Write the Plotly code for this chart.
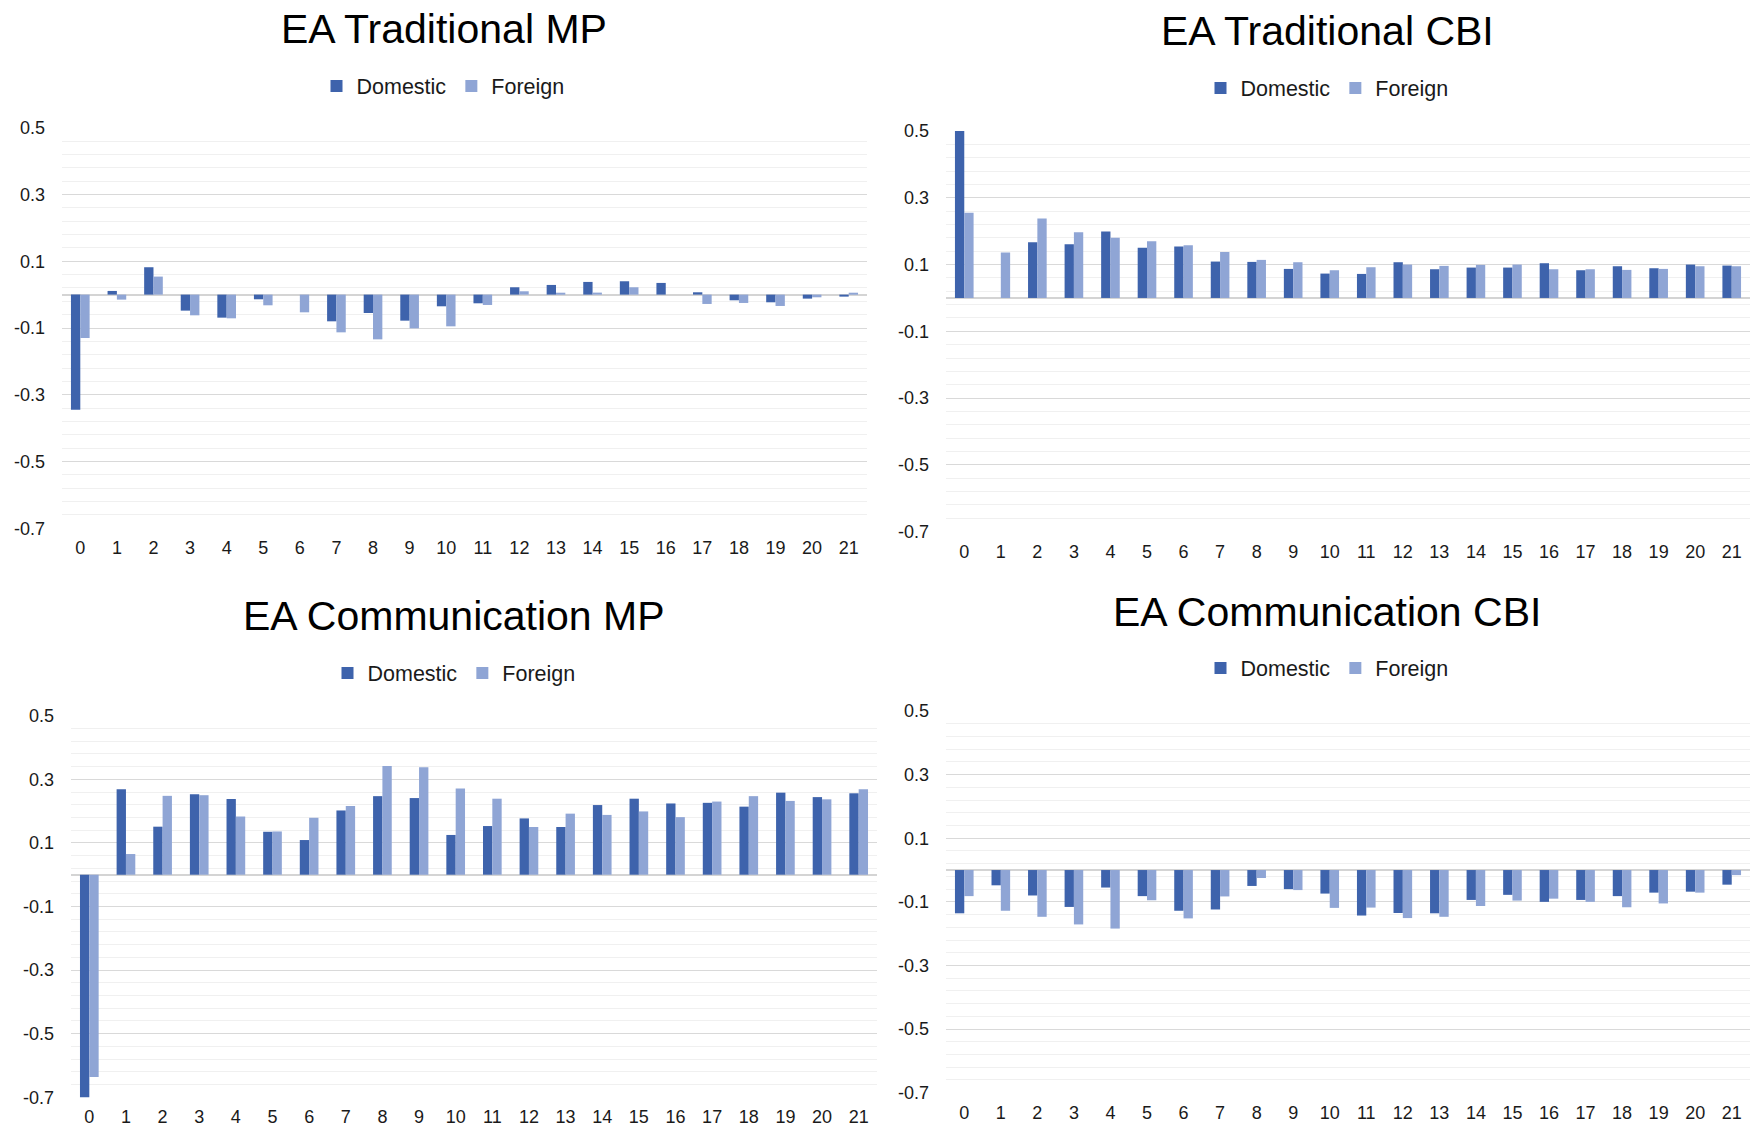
import plotly.graph_objects as go

W, H = 1751, 1128

horizons = list(range(22))
x_labels = [str(h) for h in horizons]
y_tickvals = [0.5, 0.3, 0.1, -0.1, -0.3, -0.5, -0.7]
y_ticktext = ["0.5", "0.3", "0.1", "-0.1", "-0.3", "-0.5", "-0.7"]

titles = ["EA Traditional MP", "EA Traditional CBI", "EA Communication MP", "EA Communication CBI"]
series_names = ["Domestic", "Foreign"]

trad_mp_domestic = [-0.345, 0.011, 0.082, -0.048, -0.069, -0.014, 0.0, -0.080, -0.055, -0.078, -0.035,
                    -0.026, 0.022, 0.029, 0.038, 0.040, 0.035, 0.007, -0.017, -0.023, -0.012, -0.006]
trad_mp_foreign = [-0.130, -0.015, 0.054, -0.062, -0.071, -0.032, -0.053, -0.113, -0.134, -0.101, -0.095,
                   -0.031, 0.010, 0.005, 0.006, 0.022, 0.0, -0.028, -0.025, -0.034, -0.008, 0.005]

trad_cbi_domestic = [0.503, 0.0, 0.167, 0.161, 0.199, 0.150, 0.154, 0.109, 0.108, 0.087, 0.073,
                     0.072, 0.107, 0.086, 0.091, 0.091, 0.104, 0.083, 0.095, 0.089, 0.100, 0.097]
trad_cbi_foreign = [0.255, 0.136, 0.238, 0.197, 0.180, 0.170, 0.158, 0.138, 0.114, 0.107, 0.083,
                    0.092, 0.100, 0.096, 0.099, 0.100, 0.086, 0.086, 0.084, 0.087, 0.095, 0.095]

comm_mp_domestic = [-0.703, 0.269, 0.151, 0.253, 0.238, 0.135, 0.109, 0.202, 0.247, 0.241, 0.125,
                    0.153, 0.177, 0.150, 0.219, 0.239, 0.224, 0.226, 0.214, 0.258, 0.244, 0.256]
comm_mp_foreign = [-0.636, 0.065, 0.248, 0.250, 0.183, 0.136, 0.179, 0.216, 0.342, 0.338, 0.271,
                   0.239, 0.150, 0.192, 0.188, 0.199, 0.181, 0.230, 0.247, 0.232, 0.237, 0.269]

comm_cbi_domestic = [-0.136, -0.048, -0.080, -0.116, -0.055, -0.082, -0.128, -0.124, -0.050, -0.060, -0.074,
                     -0.143, -0.135, -0.136, -0.094, -0.078, -0.100, -0.094, -0.082, -0.071, -0.068, -0.046]
comm_cbi_foreign = [-0.082, -0.128, -0.147, -0.171, -0.184, -0.095, -0.152, -0.083, -0.025, -0.063, -0.119,
                    -0.118, -0.151, -0.147, -0.113, -0.096, -0.090, -0.100, -0.117, -0.105, -0.071, -0.016]

panels = [
    (trad_mp_domestic, trad_mp_foreign),
    (trad_cbi_domestic, trad_cbi_foreign),
    (comm_mp_domestic, comm_mp_foreign),
    (comm_cbi_domestic, comm_cbi_foreign),
]

COL_DOM = "#3E63AC"
COL_FOR = "#8FA5D5"
FONT = "Arial, Liberation Sans, sans-serif"
TXT = "#1a1a1a"

# page-pixel geometry of each panel: (x_left, x_right, y_top(0.5), y_bottom(-0.7)), title (cx, cy), legend (cx, cy)
geo = [
    (62, 867, 127.7, 528.3, (444, 29), (443, 86)),
    (946, 1750, 131.0, 531.7, (1327, 31), (1327, 88)),
    (71, 877, 715.7, 1097.3, (454, 616), (454, 673)),
    (946, 1750, 711.0, 1092.7, (1327, 612), (1327, 668)),
]


def px(x):
    return x / W


def py(y):
    return 1 - y / H


fig = go.Figure()
annotations = []
layout_extra = {}

for i, ((dom, forn), (xl, xr, yt, yb, tpos, lpos)) in enumerate(zip(panels, geo)):
    n = i + 1
    xa = "x" if n == 1 else f"x{n}"
    ya = "y" if n == 1 else f"y{n}"
    leg = "legend" if n == 1 else f"legend{n}"
    for vals, name, col in ((dom, series_names[0], COL_DOM), (forn, series_names[1], COL_FOR)):
        fig.add_trace(go.Bar(x=horizons, y=vals, name=name,
                             marker=dict(color=col, line=dict(width=0)),
                             xaxis=xa, yaxis=ya, legend=leg, offsetgroup=name))
    xkey = "xaxis" if n == 1 else f"xaxis{n}"
    ykey = "yaxis" if n == 1 else f"yaxis{n}"
    layout_extra[xkey] = dict(
        domain=[max(0, px(xl)), min(1, px(xr))], anchor=ya, range=[-0.5, 21.5],
        tickmode="array", tickvals=horizons, ticktext=x_labels,
        showgrid=False, zeroline=False, showline=False, ticks="",
        tickfont=dict(size=18, color=TXT, family=FONT), ticklabelstandoff=7,
        automargin=False, fixedrange=True,
    )
    layout_extra[ykey] = dict(
        domain=[py(yb), py(yt)], anchor=xa, range=[-0.7, 0.5],
        tickmode="array", tickvals=y_tickvals, ticktext=y_ticktext,
        showgrid=True, gridcolor="#D9D9D9", gridwidth=1.3,
        minor=dict(tickmode="linear", tick0=0.1, dtick=0.04, showgrid=True, gridcolor="#F0F0F0", gridwidth=1.3, ticks=""),
        zeroline=True, zerolinecolor="#D4D4D4", zerolinewidth=2,
        showline=False, ticks="",
        tickfont=dict(size=18, color=TXT, family=FONT), ticklabelstandoff=16,
        automargin=False, fixedrange=True,
    )
    layout_extra[leg] = dict(
        orientation="h", x=px(lpos[0]), y=py(lpos[1]), xanchor="center", yanchor="middle",
        font=dict(size=21.5, color=TXT, family=FONT), bgcolor="rgba(0,0,0,0)",
        itemwidth=30, traceorder="normal", itemclick=False, itemdoubleclick=False,
    )
    annotations.append(dict(
        text=titles[i], x=px(tpos[0]), y=py(tpos[1]), xref="paper", yref="paper",
        xanchor="center", yanchor="middle", showarrow=False,
        font=dict(size=41, color="#000000", family=FONT),
    ))

fig.update_layout(
    width=W, height=H, margin=dict(l=0, r=0, t=0, b=0, pad=0, autoexpand=False),
    paper_bgcolor="white", plot_bgcolor="white",
    barmode="group", bargap=0.49, bargroupgap=0,
    annotations=annotations, font=dict(family=FONT, color=TXT),
    **layout_extra,
)

fig.write_html("out.html", config={"displayModeBar": False},
               post_script="document.body.style.margin='0';document.body.style.overflow='hidden';")
